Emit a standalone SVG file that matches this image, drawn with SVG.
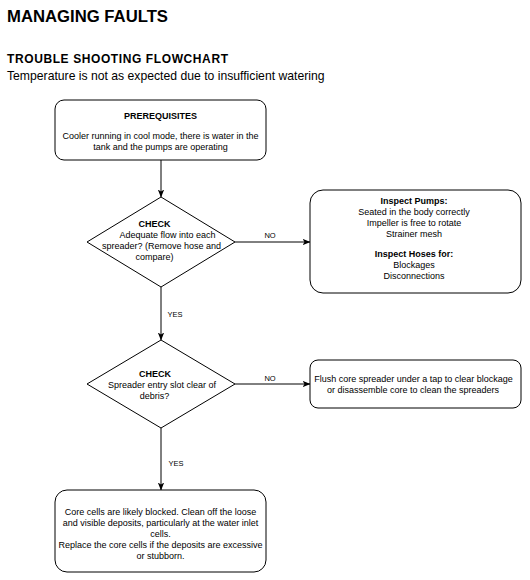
<svg xmlns="http://www.w3.org/2000/svg" width="530" height="580" viewBox="0 0 530 580">
  <style>
    text { font-family: "Liberation Sans", Arial, sans-serif; fill: #000; }
    .t { font-size: 9px; text-anchor: middle; }
    .b { font-weight: bold; }
    .lbl { font-size: 7.5px; text-anchor: middle; }
    .box { fill: #fff; stroke: #000; stroke-width: 1; }
    .edge { fill: none; stroke: #000; stroke-width: 1; }
  </style>
  <defs>
    <marker id="arrow" viewBox="0 0 8 8" refX="7.5" refY="4" markerWidth="8" markerHeight="8" markerUnits="userSpaceOnUse" orient="auto">
      <path d="M0,0.8 L8,4 L0,7.2 L2,4 Z" fill="#000"/>
    </marker>
  </defs>
  <rect width="530" height="580" fill="#fff"/>

  <text x="7" y="22" style="font-size:16.7px;font-weight:bold">MANAGING FAULTS</text>
  <text x="7" y="63" style="font-size:12px;font-weight:bold;letter-spacing:0.6px">TROUBLE SHOOTING FLOWCHART</text>
  <text x="7" y="80" style="font-size:12.2px">Temperature is not as expected due to insufficient watering</text>

  <g id="connectors">
    <path class="edge" d="M161,160 L161,197" marker-end="url(#arrow)"/>
    <path class="edge" d="M235,242 L310,242" marker-end="url(#arrow)"/>
    <text class="lbl" x="270" y="238">NO</text>
    <path class="edge" d="M161,287 L161,340" marker-end="url(#arrow)"/>
    <text class="lbl" x="175" y="317">YES</text>
    <path class="edge" d="M235,384 L310,384" marker-end="url(#arrow)"/>
    <text class="lbl" x="270" y="381">NO</text>
    <path class="edge" d="M161,428 L161,490" marker-end="url(#arrow)"/>
    <text class="lbl" x="176" y="466">YES</text>
  </g>

  <g id="prerequisites">
    <rect class="box" x="55" y="100" width="211" height="60" rx="9" ry="9"/>
    <text class="t b" x="160.5" y="119">PREREQUISITES</text>
    <text class="t" x="160.5" y="139">Cooler running in cool mode, there is water in the</text>
    <text class="t" x="160.5" y="150">tank and the pumps are operating</text>
  </g>

  <g id="check-flow">
    <path class="box" d="M161,197 L235,242 L161,287 L87,242 Z"/>
    <text class="t b" x="154.5" y="227">CHECK</text>
    <text class="t" x="167.5" y="238">Adequate flow into each</text>
    <text class="t" x="161.5" y="249">spreader? (Remove hose and</text>
    <text class="t" x="154.5" y="260">compare)</text>
  </g>

  <g id="inspect">
    <rect class="box" x="310" y="190" width="211" height="103" rx="13" ry="13"/>
    <text class="t b" x="414" y="203.5">Inspect Pumps:</text>
    <text class="t" x="414" y="214.5">Seated in the body correctly</text>
    <text class="t" x="414" y="225.5">Impeller is free to rotate</text>
    <text class="t" x="414" y="236.5">Strainer mesh</text>
    <text class="t b" x="414" y="256.5">Inspect Hoses for:</text>
    <text class="t" x="414" y="267.5">Blockages</text>
    <text class="t" x="414" y="278.5">Disconnections</text>
  </g>

  <g id="check-slot">
    <path class="box" d="M161,340 L235,384 L161,428 L87,384 Z"/>
    <text class="t b" x="155" y="377">CHECK</text>
    <text class="t" x="162" y="388">Spreader entry slot clear of</text>
    <text class="t" x="154.5" y="399">debris?</text>
  </g>

  <g id="flush">
    <rect class="box" x="310" y="360" width="211" height="48" rx="8" ry="8"/>
    <text class="t" x="413.5" y="382">Flush core spreader under a tap to clear blockage</text>
    <text class="t" x="413" y="393">or disassemble core to clean the spreaders</text>
  </g>

  <g id="core-cells">
    <rect class="box" x="55" y="490" width="211" height="82" rx="12" ry="12"/>
    <text class="t" x="160.5" y="514.5">Core cells are likely blocked. Clean off the loose</text>
    <text class="t" x="160.5" y="525.5">and visible deposits, particularly at the water inlet</text>
    <text class="t" x="160.5" y="536.5">cells.</text>
    <text class="t" x="160.5" y="547.5">Replace the core cells if the deposits are excessive</text>
    <text class="t" x="160.5" y="558.5">or stubborn.</text>
  </g>
</svg>
